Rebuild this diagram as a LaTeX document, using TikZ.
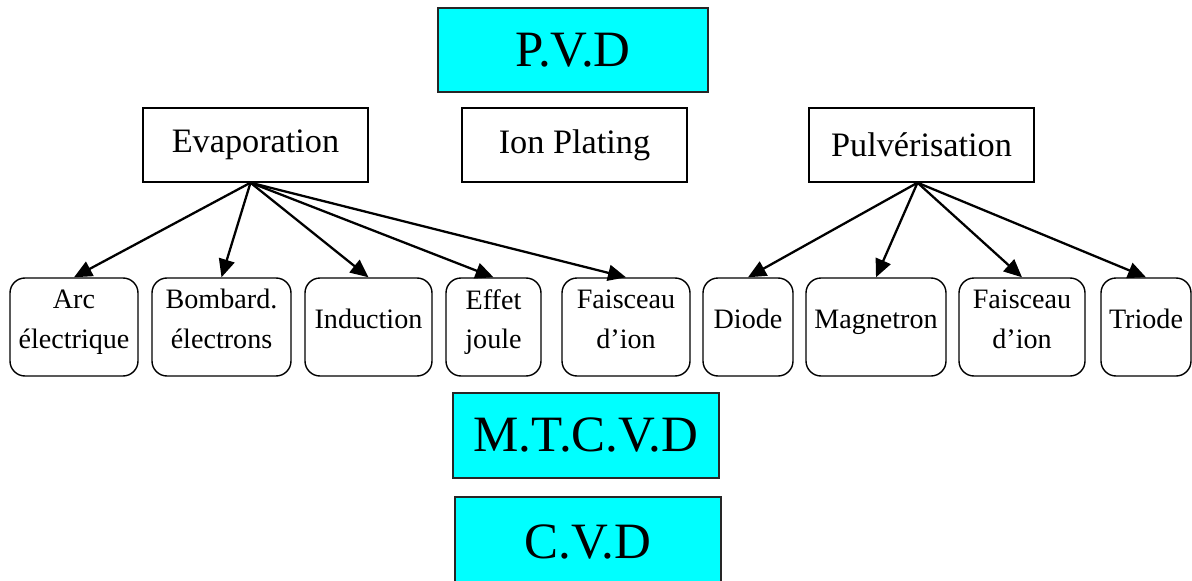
\documentclass[tikz,border=0pt]{standalone}
\usepackage{fontspec}
\setmainfont{Liberation Serif}
\usetikzlibrary{arrows.meta}
\definecolor{pvdcyan}{RGB}{0,255,255}
\tikzset{
  cyanbox/.style={draw=black!85,line width=0.7pt,fill=pvdcyan,inner sep=0pt,
    minimum height=1.7cm,font=\fontsize{29}{30}\selectfont},
  catbox/.style={draw,line width=0.8pt,inner sep=0pt,minimum width=4.5cm,
    minimum height=1.48cm,font=\fontsize{19.5}{22}\selectfont},
  leafbox/.style={draw,line width=0.8pt,rounded corners=0.3cm,inner sep=0pt,
    minimum height=1.96cm,align=center,text depth=0.32cm,
    font=\fontsize{16}{22.5}\selectfont},
  branch/.style={line width=1.3pt,-{Triangle[length=0.36cm,width=0.32cm]}}
}
\begin{document}
\begin{tikzpicture}
  \useasboundingbox (0,0) rectangle (23.84,-11.6);
  \clip (0,0) rectangle (23.84,-11.6);
  % methods
  \node[cyanbox,minimum width=5.4cm,minimum height=1.68cm] (pvd) at (11.46,-1.0) {P.V.D};
  \node[cyanbox,minimum width=5.32cm] (mtcvd) at (11.72,-8.71) {M.T.C.V.D};
  \node[cyanbox,minimum width=5.32cm,minimum height=1.8cm] (cvd) at (11.76,-10.84) {C.V.D};
  % PVD families
  \node[catbox] (evap) at (5.11,-2.9) {Evaporation};
  \node[catbox] (ion) at (11.49,-2.9) {Ion Plating};
  \node[catbox] (pulv) at (18.43,-2.9) {Pulvérisation};
  % evaporation sources
  \node[leafbox,minimum width=2.56cm] (arc) at (1.48,-6.54) {Arc\\électrique};
  \node[leafbox,minimum width=2.78cm] (bomb) at (4.43,-6.54) {Bombard.\\électrons};
  \node[leafbox,minimum width=2.54cm] (induc) at (7.37,-6.54) {Induction};
  \node[leafbox,minimum width=1.9cm] (joule) at (9.87,-6.54) {Effet\\joule};
  \node[leafbox,minimum width=2.56cm] (faisevap) at (12.52,-6.54) {Faisceau\\d’ion};
  % sputtering modes
  \node[leafbox,minimum width=1.8cm] (diode) at (14.96,-6.54) {Diode};
  \node[leafbox,minimum width=2.8cm] (magn) at (17.52,-6.54) {Magnetron};
  \node[leafbox,minimum width=2.52cm] (faispulv) at (20.44,-6.54) {Faisceau\\d’ion};
  \node[leafbox,minimum width=1.8cm] (triode) at (22.92,-6.54) {Triode};
  % arrows
  \foreach \t in {arc,bomb,induc,joule,faisevap}
    \draw[branch] ([xshift=-0.1cm]evap.south) -- (\t.north);
  \foreach \t in {diode,magn,faispulv,triode}
    \draw[branch] ([xshift=-0.08cm]pulv.south) -- (\t.north);
\end{tikzpicture}
\end{document}
